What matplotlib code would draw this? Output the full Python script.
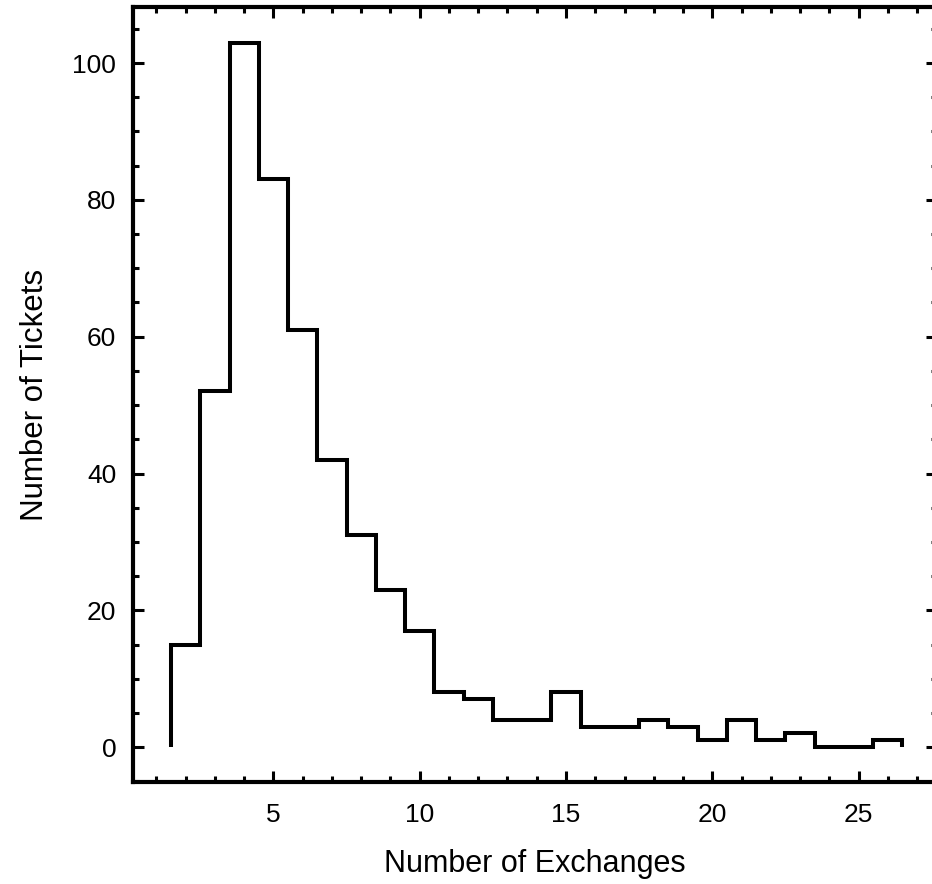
import matplotlib
matplotlib.use('Agg')
import matplotlib.pyplot as plt
from matplotlib.ticker import MultipleLocator

# Ticket counts per number of exchanges (bins centred on integers 2..26)
bin_edges = [1.5, 2.5, 3.5, 4.5, 5.5, 6.5, 7.5, 8.5, 9.5, 10.5, 11.5, 12.5, 13.5,
             14.5, 15.5, 16.5, 17.5, 18.5, 19.5, 20.5, 21.5, 22.5, 23.5, 24.5,
             25.5, 26.5]
ticket_counts = [15, 52, 103, 83, 61, 42, 31, 23, 17, 8, 7, 4, 4,
                 8, 3, 3, 4, 3, 1, 4, 1, 2, 0, 0, 1]

x_label = 'Number of Exchanges'
y_label = 'Number of Tickets'

plt.rcParams['font.family'] = ['Liberation Sans', 'DejaVu Sans']

fig = plt.figure(figsize=(9.32, 8.84), dpi=100)
# right frame sits just past the edge of the canvas
ax = fig.add_axes([133 / 932, 1 - 782 / 884, 804 / 932, 775 / 884])

ax.stairs(ticket_counts, bin_edges, baseline=0, color='black',
          linewidth=2.9, joinstyle='miter')

ax.set_xlim(0.2, 27.68)
ax.set_ylim(-5.1, 108.2)

ax.xaxis.set_major_locator(MultipleLocator(5))
ax.xaxis.set_minor_locator(MultipleLocator(1))
ax.yaxis.set_major_locator(MultipleLocator(20))
ax.yaxis.set_minor_locator(MultipleLocator(5))

ax.tick_params(which='both', direction='in', top=True, right=True,
               width=2.2, color='black')
ax.tick_params(which='major', length=8, labelsize=19)
ax.tick_params(axis='x', which='major', pad=15)
ax.tick_params(axis='y', which='major', pad=12)
ax.tick_params(which='minor', length=4)

for spine in ax.spines.values():
    spine.set_linewidth(3)

ax.set_xlabel(x_label, fontsize=22, labelpad=16)
ax.set_ylabel(y_label, fontsize=22.5, labelpad=16)

fig.savefig('out.png', dpi=100)
plt.close(fig)
